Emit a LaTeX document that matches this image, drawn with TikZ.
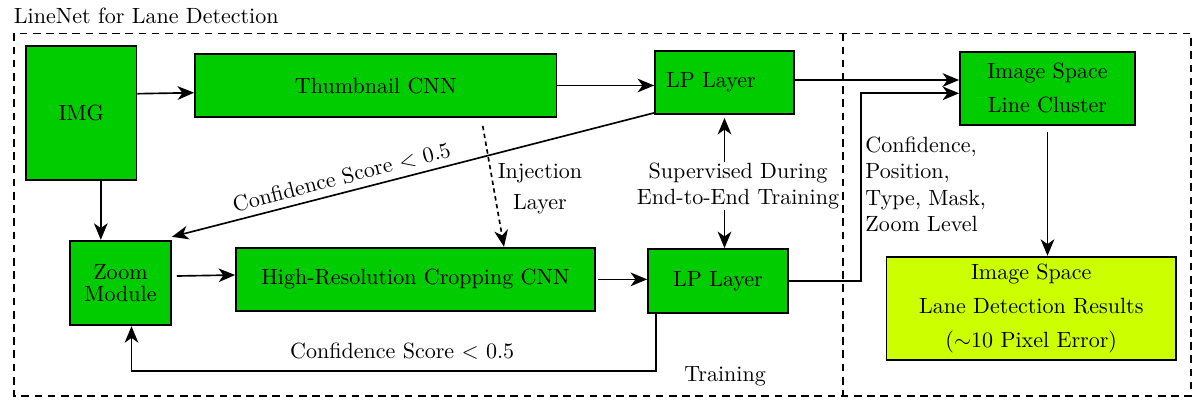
\documentclass[tikz,border=0pt]{standalone}
\usetikzlibrary{arrows.meta}
\newdimen\px \px=0.454pt
\definecolor{boxgreen}{RGB}{0,204,0}
\definecolor{resyellow}{RGB}{204,255,0}
\begin{document}
\begin{tikzpicture}[x=0.454pt,y=-0.454pt,
  box/.style={draw=black,line width=0.8pt,fill=boxgreen,inner sep=0pt,align=center},
  arr/.style={line width=0.75pt,-{Stealth[length=7.5pt,width=6.2pt,inset=2.2pt]}},
  frame/.style={line width=0.65pt,dash pattern=on 3.5pt off 2.5pt},
  lbl/.style={inner sep=0pt,align=center}]
\useasboundingbox (0,0) rectangle (1200,404);
% frames
\draw[frame] (14,33.3) rectangle (1191,396);
\coordinate (midtop) at (843,33.3);
\coordinate (midbot) at (843,396);
\draw[frame] (midtop) -- (midbot);
\node[lbl,anchor=base west] (title) at (13.5,23) {LineNet for Lane Detection};
% boxes
\node[box,minimum width=110.5\px,minimum height=134\px] (IMG) at (81.25,113) {IMG};
\node[box,minimum width=361.5\px,minimum height=63\px] (Thumb) at (375.75,85.5) {Thumbnail CNN};
\node[box,minimum width=139\px,minimum height=63.3\px,text width=117\px,align=left] (LP1) at (724.5,82.35) {LP Layer};
\node[box,minimum width=175\px,minimum height=73\px] (ISLC) at (1047.5,88.2) {Image Space\\[3.3pt]Line Cluster};
\node[box,minimum width=101\px,minimum height=84.6\px] (Zoom) at (120.5,283) {Zoom\\[-1.8pt]Module};
\node[box,minimum width=359\px,minimum height=63.3\px] (HR) at (415.5,279.35) {High-Resolution Cropping CNN};
\node[box,minimum width=140\px,minimum height=64\px] (LP2) at (718,281) {LP Layer};
\node[box,fill=resyellow,minimum width=289.5\px,minimum height=103.6\px] (Res) at (1031.25,308.5) {Image Space\\[3.3pt]Lane Detection Results\\[3.3pt]($\sim$10 Pixel Error)};
% text labels
\node[lbl] (Sup) at (738,186) {Supervised During\\End-to-End Training};
\node[lbl,anchor=west,align=left] (Out) at (865,184.5) {Confidence,\\Position,\\Type, Mask,\\Zoom Level};
\node[lbl] (Train) at (725,376) {Training};
\node[lbl] (Inj) at (540,188.5) {Injection\\[2pt]Layer};
% connectors
\draw[arr] ([yshift=19.3\px]IMG.east) -- ([yshift=-7.2\px]Thumb.west);
\draw[arr] (Thumb.east) -- (Thumb.east -| LP1.west);
\coordinate (a1) at ([yshift=2.35\px]LP1.east);
\draw[arr] (a1) -- (a1 -| ISLC.west);
\draw[arr] (LP2.east) -- ++(72,0) |- ([yshift=-5.1\px]ISLC.west);
\draw[arr,dash pattern=on 2pt off 1.6pt] ([xshift=107\px,yshift=-8\px]Thumb.south) -- ([xshift=88.5\px]HR.north);
\draw[arr] ([yshift=2\px]LP1.south west) -- node[pos=0.64,sloped,above=3pt,inner sep=0pt] (c1) {Confidence Score $<$ 0.5} ([yshift=3\px]Zoom.north east);
\draw[arr] (LP1.south |- Sup.north) -- ([yshift=-3\px]LP1.south);
\draw[arr] ([xshift=6.5\px]LP2.north |- Sup.south) -- ([xshift=6.5\px]LP2.north);
\draw[arr] ([yshift=-6\px]ISLC.south) -- (ISLC.south |- Res.north);
\draw[arr] ([xshift=19.55\px]IMG.south) -- ([xshift=-19.7\px]Zoom.north);
\draw[arr] ([xshift=5\px,yshift=7\px]Zoom.east) -- ([yshift=4.35\px]HR.west);
\draw[arr] ([xshift=2\px]HR.east) -- (HR.east -| LP2.west);
\draw[arr] ([xshift=9\px]LP2.south west) -- ++(0,57) -| node[pos=0.242,above=5pt,inner sep=0pt] (c2) {Confidence Score $<$ 0.5} ([xshift=11\px]Zoom.south);
\end{tikzpicture}
\end{document}
